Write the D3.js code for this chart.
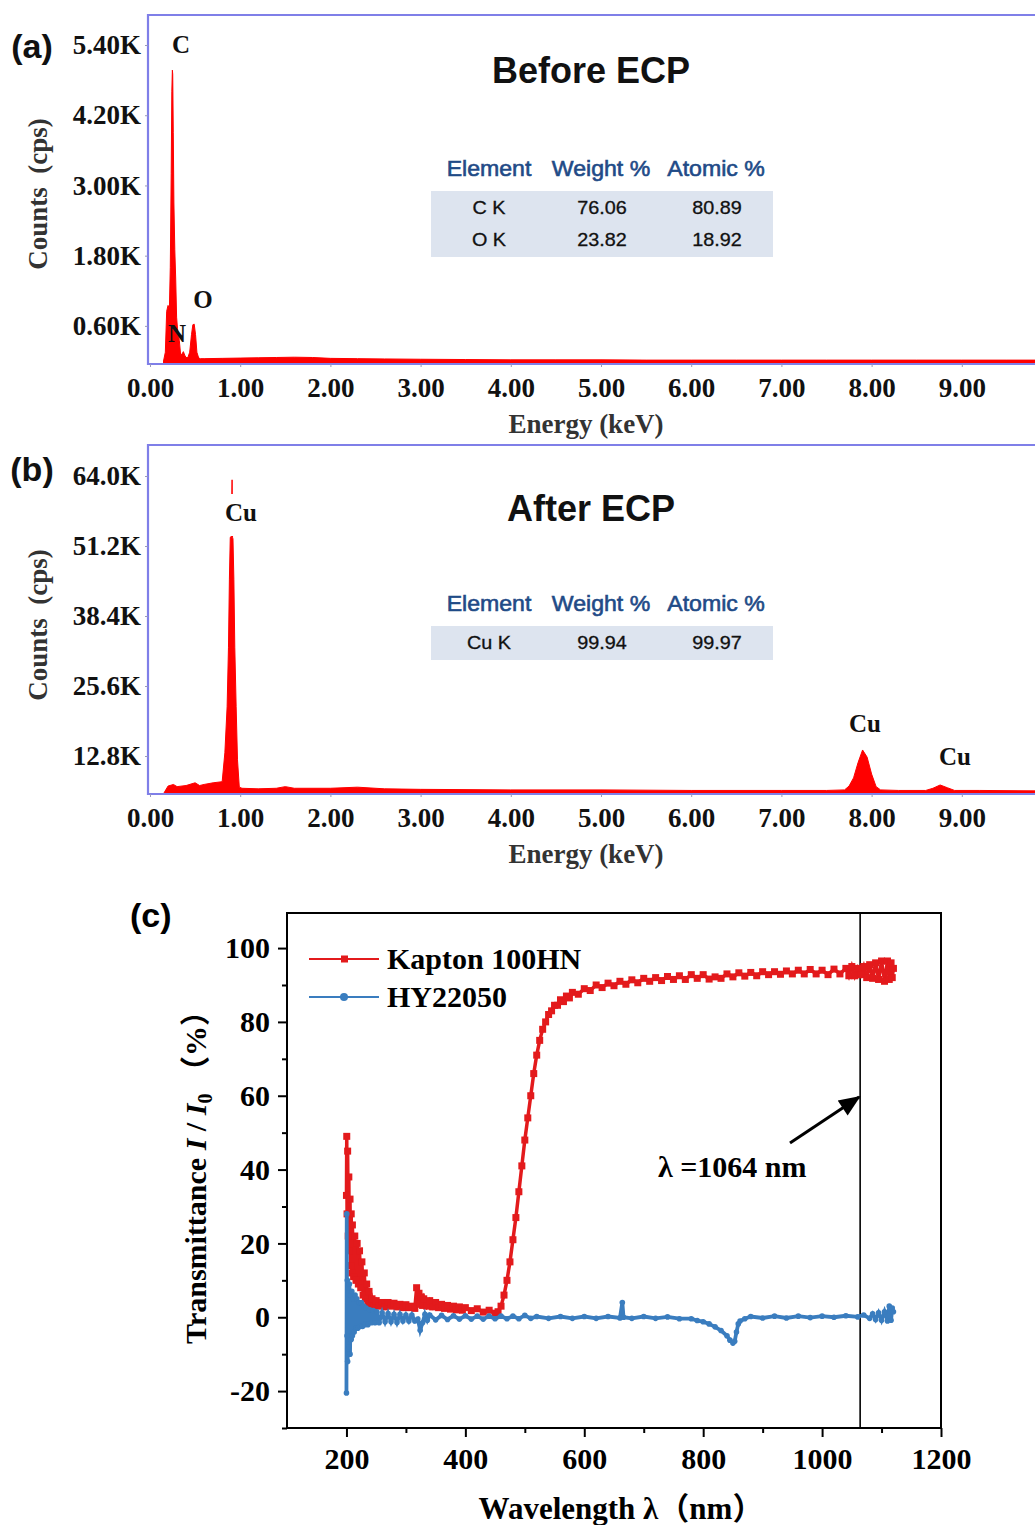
<!DOCTYPE html>
<html>
<head>
<meta charset="utf-8">
<script src="https://cdn.jsdelivr.net/npm/d3@7"></script>
<style>
  body { margin: 0; background: #fff; }
  svg { display: block; }
  .serif { font-family: "Liberation Serif", "Times New Roman", "Noto Sans CJK SC", serif; font-weight: bold; }
  .sans { font-family: "Liberation Sans", Arial, sans-serif; }
</style>
</head>
<body>
<div id="chart"></div>
<script>
// ---- data ----
// (a) EDS before ECP : energy (keV) / counts (K cps)
var energyA = [0.15, 0.17, 0.185, 0.2, 0.215, 0.225, 0.235, 0.242, 0.248, 0.252, 0.258, 0.265, 0.275, 0.285, 0.295,
  0.305, 0.315, 0.325, 0.34, 0.355, 0.37, 0.385, 0.4, 0.42, 0.44, 0.46, 0.475, 0.49, 0.505, 0.52, 0.54, 0.56, 0.6,
  0.8, 1.0, 1.2, 1.4, 1.6, 1.8, 2.0, 2.3, 2.6, 3.0, 3.5, 4.0, 4.5, 5.0, 5.5, 6.0, 6.5, 7.0, 7.5, 8.0, 8.5, 9.0, 9.5, 10.0];
var countsA = [0, 0.15, 0.85, 0.95, 0.9, 1.6, 3.2, 4.6, 4.97, 4.9, 3.9, 2.7, 1.9, 1.4, 0.75,
  0.55, 0.45, 0.35, 0.1, 0.12, 0.16, 0.1, 0.06, 0.06, 0.15, 0.45, 0.62, 0.63, 0.45, 0.15, 0.05, 0.04, 0.04,
  0.045, 0.05, 0.055, 0.06, 0.065, 0.06, 0.045, 0.04, 0.035, 0.03, 0.025, 0.02, 0.02, 0.02, 0.015, 0.015, 0.015, 0.015, 0.015, 0.015, 0.015, 0.015, 0.015, 0.015];

// (b) EDS after ECP
var energyB = [0.15, 0.2, 0.26, 0.3, 0.4, 0.5, 0.55, 0.6, 0.7, 0.8, 0.83, 0.855, 0.87, 0.88, 0.89, 0.9, 0.91, 0.915,
  0.92, 0.93, 0.94, 0.955, 0.97, 0.99, 1.02, 1.2, 1.4, 1.5, 1.6, 2.0, 2.3, 2.6, 3.0, 4.0, 5.0, 6.0, 7.0, 7.5, 7.7,
  7.75, 7.8, 7.85, 7.9, 7.95, 8.0, 8.05, 8.1, 8.3, 8.6, 8.68, 8.76, 8.84, 8.92, 9.2, 10.0];
var countsB = [5.9, 7.3, 7.6, 7.2, 7.4, 7.9, 7.4, 7.6, 7.9, 8.1, 13.4, 21.8, 32.7, 45, 52.8, 52.8, 63.3, 52.8,
  52.5, 45, 32.7, 21.8, 12.1, 7.1, 6.9, 6.8, 6.9, 7.2, 6.9, 6.9, 7.1, 6.8, 6.7, 6.6, 6.6, 6.5, 6.5, 6.5, 6.6,
  7.3, 8.8, 11.6, 13.9, 12.6, 9.5, 7.2, 6.6, 6.5, 6.5, 6.9, 7.5, 7.0, 6.5, 6.5, 6.4];

var tableHead = ["Element", "Weight %", "Atomic %"];
var tableA = [["C K", "76.06", "80.89"], ["O K", "23.82", "18.92"]];
var tableB = [["Cu K", "99.94", "99.97"]];

var energyTicks = [0, 1, 2, 3, 4, 5, 6, 7, 8, 9];
var countTicksA = [0.6, 1.8, 3.0, 4.2, 5.4];
var countTicksB = [12.8, 25.6, 38.4, 51.2, 64.0];

// (c) transmittance (%)
var kaptonWl = [200, 200.5, 201, 202, 203, 204, 205, 206, 207, 208, 209, 210, 212, 214, 216, 218, 220, 222, 224, 226,
  228, 230, 232, 234, 236, 238, 240, 243, 246, 250, 255, 260, 265, 270, 275, 280, 285, 290, 295, 300, 305, 310, 315,
  318, 320, 322, 324, 326, 328, 330, 335, 340, 345, 350, 355, 360, 365, 370, 375, 380, 385, 390, 395, 400, 410, 420,
  430, 440, 450, 455, 460, 465, 470, 475, 480, 485, 490, 495, 500, 505, 510, 515, 520, 525, 530, 535, 540, 545, 550,
  555, 560, 565, 570, 575, 580, 590, 600, 610, 620, 630, 640, 650, 660, 670, 680, 690, 700, 710, 720, 730, 740, 750,
  760, 770, 780, 790, 800, 810, 820, 830, 840, 850, 860, 870, 880, 890, 900, 910, 920, 930, 940, 950, 960, 970, 980,
  990, 1000, 1010, 1020, 1030, 1040, 1045, 1050, 1055, 1060, 1065, 1070, 1075, 1080, 1085, 1090, 1095, 1100, 1105,
  1110, 1113, 1116, 1118, 1120];
var kaptonT = [33, 49, 28, 45, 22, 38, 18, 32, 14, 28, 12, 25, 11, 22, 10, 20, 9, 18, 8, 15,
  6, 12, 5, 9, 4, 7, 3.5, 5, 3, 4.5, 3, 4, 2.8, 4, 3, 3.8, 2.8, 3.5, 2.6, 3.4, 2.6, 3, 2.4,
  8, 4, 6.5, 3.5, 5.5, 3.2, 5, 3, 4.5, 2.8, 4, 2.6, 3.5, 2.4, 3.2, 2.2, 3, 2, 2.8, 1.9, 2.6, 1.8, 2.3,
  1.4, 1.9, 1.1, 1.5, 3, 6, 10, 15, 21, 27, 34, 41, 48, 54, 60, 66, 71, 75, 78, 80, 82, 83, 84.5,
  84.5, 86, 85.5, 87, 86.5, 88, 87.5, 89, 88.5, 90, 89.3, 90.5, 89.8, 91, 90.2, 91.4, 90.6, 91.8, 91, 92, 91.2, 92.3, 91.5,
  92.5, 91.5, 92.8, 91.8, 92.8, 91.6, 92.2, 91.8, 93, 92.2, 93.3, 92.4, 93.4, 92.5, 93.6, 92.8, 93.6, 92.9, 93.8, 93, 94, 93, 94.2,
  93, 94, 92.8, 94.3, 93, 94.5, 92.5, 95, 92.5, 94.5, 92.8, 95, 92, 95.5, 91.8, 96, 91.5, 96.5, 91,
  96.5, 91.5, 96, 92, 94.5];

var hyWl = [200, 200.5, 201, 201.5, 202, 203, 204, 205, 206, 207, 208, 209, 210, 211.5, 213, 214.5, 216, 217.5, 219,
  221, 223, 225, 227, 229, 231, 233, 236, 239, 242, 245, 248, 251, 255, 260, 265, 270, 275, 280, 285, 290, 295, 300,
  305, 310, 315, 320, 324, 328, 332, 336, 340, 350, 360, 370, 380, 390, 400, 410, 420, 430, 440, 450, 460, 470, 480,
  490, 500, 510, 520, 540, 560, 580, 600, 620, 640, 660, 664, 666, 680, 700, 720, 740, 760, 780, 790, 800, 810, 820,
  830, 840, 845, 850, 853, 856, 859, 862, 870, 880, 900, 920, 940, 960, 980, 1000, 1020, 1040, 1060, 1070, 1080,
  1085, 1090, 1095, 1100, 1105, 1110, 1113, 1116, 1118, 1120];
var hyT = [-20.5, 28, -5, 10, -12, 8, -8, 9, -10, 6, -6, 7, -5, 5, -4, 6, -3, 5, -3,
  4, -2.5, 4, -2.5, 3, -2, 2.5, -2, 2, -1.5, 1.8, -1.5, 1.5, -1.5, 1.2, -1.2, 1, -1.2, 0.8, -1.4, 0.8, -1, 0.6,
  -1, 0.6, -1, -0.5, -3.5, -1.5, 0.8, -0.8, 0.6, -0.7, 0.5, -0.6, 0.4, -0.5, 0.4, -0.5, 0.3, -0.5, 0.3, -0.4, 0.3, -0.4, 0.3,
  -0.4, 0.5, -0.3, 0.2, -0.3, 0.2, -0.3, 0.2, -0.3, 0.2, -0.2, 4, 0, -0.3, 0.2, -0.3, 0.1, -0.4, -0.4, -0.9, -1.2, -1.8, -2.6,
  -3.6, -5, -6.2, -7, -6.5, -4, -1.8, -1, -0.4, 0.2, -0.2, 0.3, -0.2, 0.3, -0.1, 0.3, 0, 0.4, 0.1, 0.6, -0.3,
  0.9, -0.6, 1.2, -0.8, 1.5, -1, 3, -0.8, 2.5, 1.5];

var wlTicks = [200, 400, 600, 800, 1000, 1200];
var wlMinor = [300, 500, 700, 900, 1100];
var tTicks = [-20, 0, 20, 40, 60, 80, 100];
var tMinor = [-30, -10, 10, 30, 50, 70, 90];

// ---- setup ----
var W = 1035, H = 1525;
var frameColor = "#7f7fe8";

var svg = d3.select("#chart").append("svg")
  .attr("width", W)
  .attr("height", H);
svg.append("rect").attr("width", W).attr("height", H).attr("fill", "#fff");

function txt(g, x, y, s, cls, size, stretch, anchor) {
  return g.append("text")
    .attr("class", cls)
    .attr("transform", `translate(${x},${y}) scale(${stretch},1)`)
    .attr("text-anchor", anchor || "middle")
    .style("font-size", size + "px")
    .text(s);
}

var xE = d3.scaleLinear().domain([0, 10]).range([150, 1052]);

// one EDS panel
function edsPanel(opt) {
  var g = svg.append("g");
  var y = opt.y;
  var yBottom = opt.bottom, yTop = opt.top;
  var vBottom = y.invert(yBottom);

  // spectrum
  var pts = opt.energy.map((e, i) => [e, opt.counts[i]]);
  var area = d3.area()
    .x(d => xE(d[0]))
    .y0(y(vBottom))
    .y1(d => y(d[1]));
  g.append("path")
    .datum(pts)
    .attr("d", area)
    .attr("fill", "#ff0000")
    .attr("stroke", "#ff0000")
    .attr("stroke-width", 1);

  // frame
  g.append("path")
    .attr("d", `M${W},${yTop}H148V${yBottom}H${W}`)
    .attr("fill", "none")
    .attr("stroke", frameColor)
    .attr("stroke-width", 2.2);

  // axes
  var yAxis = g.append("g")
    .attr("transform", "translate(148,0)")
    .call(d3.axisLeft(y).tickValues(opt.ticks).tickSize(3).tickFormat(opt.fmt));
  yAxis.select(".domain").remove();
  yAxis.attr("font-family", null).attr("font-size", null);
  yAxis.selectAll("line").attr("stroke", "#9999bb");
  yAxis.selectAll("text")
    .attr("class", "serif")
    .attr("x", -7)
    .attr("fill", "#111")
    .style("font-size", "27px");

  var xAxis = g.append("g")
    .attr("transform", `translate(0,${yBottom})`)
    .call(d3.axisBottom(xE).tickValues(energyTicks).tickSize(3).tickFormat(d => d.toFixed(2)));
  xAxis.select(".domain").remove();
  xAxis.attr("font-family", null).attr("font-size", null);
  xAxis.selectAll("line").attr("stroke", "#9999bb");
  xAxis.selectAll("text")
    .attr("class", "serif")
    .attr("y", 14)
    .attr("fill", "#111")
    .style("font-size", "27px");

  // axis titles
  txt(g, 586, yBottom + 69, "Energy (keV)", "serif", 27, 1).attr("fill", "#333");
  g.append("text")
    .attr("class", "serif")
    .attr("transform", `translate(47,${opt.ytitle}) rotate(-90)`)
    .attr("text-anchor", "middle")
    .attr("fill", "#333")
    .style("font-size", "27px")
    .text("Counts\u2002(cps)");

  // title
  txt(g, 591, opt.titleY, opt.title, "sans", 36, 1).style("font-weight", "bold").attr("fill", "#111");

  // EDS table
  var cols = [489, 601, 716];
  g.append("rect")
    .attr("x", 431).attr("y", opt.tableY)
    .attr("width", 342).attr("height", opt.rows.length * 32 + 2)
    .attr("fill", "#dde4ef");
  tableHead.forEach((h, i) => {
    txt(g, cols[i], opt.tableY - 15, h, "sans", 22, 1.05)
      .attr("fill", "#1f4b87").attr("stroke", "#1f4b87").attr("stroke-width", 0.6);
  });
  opt.rows.forEach((r, j) => {
    r.forEach((c, i) => {
      txt(g, cols[i] + (i ? 1 : 0), opt.tableY + 23 + j * 32, c, "sans", 18, 1.1)
        .attr("fill", "#111").attr("stroke", "#111").attr("stroke-width", 0.3);
    });
  });

  // peak labels (some sit on a white box, as in the figure)
  opt.peaks.forEach(p => {
    if (p[3]) {
      g.append("rect").attr("x", p[1] - 19).attr("y", p[2] - 27).attr("width", 38).attr("height", 42).attr("fill", "#fff");
    }
    txt(g, p[1], p[2], p[0], "serif", 25, 1).attr("fill", "#111");
  });

  // panel letter
  txt(g, 32, opt.letterY, opt.letter, "sans", 34, 1).style("font-weight", "bold").attr("fill", "#111");
}

edsPanel({
  y: d3.scaleLinear().domain([0, 5.4]).range([361, 45]),
  top: 15, bottom: 364,
  energy: energyA, counts: countsA,
  ticks: countTicksA, fmt: d => d.toFixed(2) + "K",
  title: "Before ECP", titleY: 83,
  tableY: 191, rows: tableA,
  peaks: [["C", 181, 53], ["N", 177, 342], ["O", 203, 308]],
  letter: "(a)", letterY: 58, ytitle: 194
});

edsPanel({
  y: d3.scaleLinear().domain([0, 64]).range([826, 476]),
  top: 445, bottom: 794,
  energy: energyB, counts: countsB,
  ticks: countTicksB, fmt: d => d.toFixed(1) + "K",
  title: "After ECP", titleY: 521,
  tableY: 626, rows: tableB,
  peaks: [["Cu", 241, 521, true], ["Cu", 865, 732], ["Cu", 955, 765]],
  letter: "(b)", letterY: 481, ytitle: 625
});

// ---- panel (c) ----
var gc = svg.append("g");
var xC = d3.scaleLinear().domain([100, 1200]).range([287, 941]);
var yC = d3.scaleLinear().domain([-30, 109.5]).range([1428, 913]);
var red = "#e31a1c", blue = "#3a7dbf";

// frame
gc.append("rect")
  .attr("x", xC(100)).attr("y", yC(109.5))
  .attr("width", xC(1200) - xC(100)).attr("height", yC(-30) - yC(109.5))
  .attr("fill", "none").attr("stroke", "#000").attr("stroke-width", 2);

function styleAxis(a) {
  a.select(".domain").remove();
  a.attr("font-family", null).attr("font-size", null);
  a.selectAll("line").attr("stroke", "#000").attr("stroke-width", 2);
}
var plain = d => (d < 0 ? "-" + Math.abs(d) : String(d));

var ax = gc.append("g").attr("transform", `translate(0,${yC(-30)})`)
  .call(d3.axisBottom(xC).tickValues(wlTicks).tickSize(9).tickPadding(11).tickFormat(plain));
styleAxis(ax);
ax.selectAll("text").attr("class", "serif").attr("fill", "#000").style("font-size", "30px");
var axm = gc.append("g").attr("transform", `translate(0,${yC(-30)})`)
  .call(d3.axisBottom(xC).tickValues(wlMinor).tickSize(5).tickFormat(""));
styleAxis(axm);

var ay = gc.append("g").attr("transform", `translate(${xC(100)},0)`)
  .call(d3.axisLeft(yC).tickValues(tTicks).tickSize(9).tickPadding(8).tickFormat(plain));
styleAxis(ay);
ay.selectAll("text").attr("class", "serif").attr("fill", "#000").style("font-size", "30px");
var aym = gc.append("g").attr("transform", `translate(${xC(100)},0)`)
  .call(d3.axisLeft(yC).tickValues(tMinor).tickSize(5).tickFormat(""));
styleAxis(aym);

// 1064 nm marker
gc.append("line")
  .attr("x1", xC(1064)).attr("x2", xC(1064))
  .attr("y1", yC(109.5)).attr("y2", yC(-30))
  .attr("stroke", "#000").attr("stroke-width", 1.6);

// series
var kapton = kaptonWl.map((w, i) => [w, kaptonT[i]]);
var hy = hyWl.map((w, i) => [w, hyT[i]]);
var line = d3.line().x(d => xC(d[0])).y(d => yC(d[1]));

gc.append("path").datum(kapton).attr("d", line)
  .attr("fill", "none").attr("stroke", red).attr("stroke-width", 3.5);
gc.append("g").selectAll("rect").data(kapton).join("rect")
  .attr("x", d => xC(d[0]) - 3.5).attr("y", d => yC(d[1]) - 3.5)
  .attr("width", 7).attr("height", 7).attr("fill", red);

gc.append("path").datum(hy).attr("d", line)
  .attr("fill", "none").attr("stroke", blue).attr("stroke-width", 3.8);
gc.append("g").selectAll("circle").data(hy).join("circle")
  .attr("cx", d => xC(d[0])).attr("cy", d => yC(d[1]))
  .attr("r", 2.8).attr("fill", blue);

// legend
var legend = [["Kapton 100HN", red, "rect", 959], ["HY22050", blue, "circle", 997]];
legend.forEach(l => {
  gc.append("line").attr("x1", 309).attr("x2", 379).attr("y1", l[3]).attr("y2", l[3])
    .attr("stroke", l[1]).attr("stroke-width", 2);
  if (l[2] == "rect") {
    gc.append("rect").attr("x", 341).attr("y", l[3] - 3.5).attr("width", 7).attr("height", 7).attr("fill", l[1]);
  } else {
    gc.append("circle").attr("cx", 344).attr("cy", l[3]).attr("r", 4).attr("fill", l[1]);
  }
  gc.append("text").attr("class", "serif").attr("x", 387).attr("y", l[3] + 10)
    .style("font-size", "30px").attr("fill", "#000").text(l[0]);
});

// arrow + label
svg.append("defs").append("marker")
  .attr("id", "arrow").attr("viewBox", "0 0 12 10")
  .attr("refX", 11).attr("refY", 5)
  .attr("markerWidth", 24).attr("markerHeight", 18)
  .attr("markerUnits", "userSpaceOnUse")
  .attr("orient", "auto")
  .append("path").attr("d", "M0,0L12,5L0,10z").attr("fill", "#000");
gc.append("line")
  .attr("x1", 790).attr("y1", 1143).attr("x2", xC(1064) - 1).attr("y2", 1097)
  .attr("stroke", "#000").attr("stroke-width", 3)
  .attr("marker-end", "url(#arrow)");
gc.append("text").attr("class", "serif").attr("x", 658).attr("y", 1177)
  .style("font-size", "30px").attr("fill", "#000").text("\u03bb =1064 nm");

// axis titles
gc.append("text").attr("class", "serif").attr("x", 621).attr("y", 1519)
  .attr("text-anchor", "middle").style("font-size", "31px").attr("fill", "#000")
  .text("Wavelength \u03bb\uff08nm\uff09");

var yt = gc.append("text").attr("class", "serif")
  .attr("transform", "translate(206,1170) rotate(-90)")
  .attr("text-anchor", "middle").style("font-size", "30px").attr("fill", "#000");
yt.append("tspan").text("Transmittance ");
yt.append("tspan").style("font-style", "italic").text("I");
yt.append("tspan").text(" / ");
yt.append("tspan").style("font-style", "italic").text("I");
yt.append("tspan").attr("dy", 6).style("font-size", "20px").text("0");
yt.append("tspan").attr("dy", -6).text(" \uff08%\uff09");

gc.append("text").attr("class", "sans").attr("x", 130).attr("y", 927)
  .style("font-size", "34px").style("font-weight", "bold").attr("fill", "#000").text("(c)");
</script>
</body>
</html>
